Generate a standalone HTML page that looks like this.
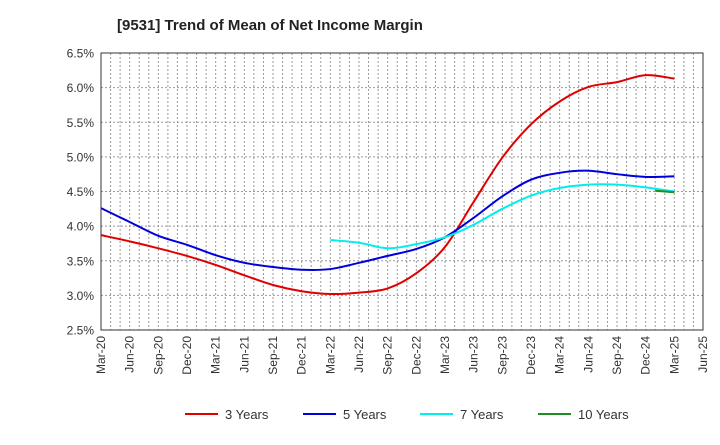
<!DOCTYPE html>
<html><head><meta charset="utf-8"><style>
body{margin:0;background:#fff;font-family:"Liberation Sans",Arial,sans-serif;}
</style></head><body>
<svg width="720" height="440" xmlns="http://www.w3.org/2000/svg">
<text x="117" y="30" font-size="15" font-weight="bold" fill="#222">[9531]  Trend of Mean of Net Income Margin</text>
<g id="grid"></g>
<g id="yticks"></g>
<g id="xticks"></g>
<g id="series"></g>
<rect x="101" y="53" width="602" height="277" fill="none" stroke="#333" stroke-width="1"/>
<g id="legend"></g>
</svg>
<script>
const xLabels=["Mar-20","Jun-20","Sep-20","Dec-20","Mar-21","Jun-21","Sep-21","Dec-21","Mar-22","Jun-22","Sep-22","Dec-22","Mar-23","Jun-23","Sep-23","Dec-23","Mar-24","Jun-24","Sep-24","Dec-24","Mar-25","Jun-25"];
const yTicks=[2.5,3.0,3.5,4.0,4.5,5.0,5.5,6.0,6.5];
const s3=[3.87,3.78,3.68,3.57,3.44,3.29,3.15,3.06,3.02,3.04,3.10,3.32,3.70,4.35,4.99,5.47,5.80,6.01,6.08,6.18,6.13];
const s5=[4.26,4.06,3.86,3.73,3.58,3.47,3.41,3.37,3.38,3.47,3.57,3.67,3.84,4.12,4.43,4.67,4.77,4.80,4.75,4.71,4.72];
const s7=[3.80,3.76,3.68,3.74,3.84,4.02,4.25,4.44,4.55,4.60,4.60,4.56,4.50];
const s7Start=8;
const s10=[4.51,4.49];
const s10Months=[58,60];
const NS="http://www.w3.org/2000/svg";
const X0=101,X1=703,Y0=330,Y1=53,months=63;
const xs=m=>X0+(X1-X0)*m/months;
const ys=v=>Y0-(v-2.5)/(6.5-2.5)*(Y0-Y1);
function mk(t,a,p){const e=document.createElementNS(NS,t);for(const k in a)e.setAttribute(k,a[k]);p.appendChild(e);return e;}
const grid=document.getElementById('grid');
for(let m=1;m<months;m++){
 const l=mk('line',{x1:xs(m),x2:xs(m),y1:Y1,y2:Y0,stroke:'#999','stroke-dasharray':'2,2','stroke-width':1},grid);
 
 
}
const yt=document.getElementById('yticks');
yTicks.forEach(v=>{
 if(v>2.5&&v<6.5){const l=mk('line',{x1:X0,x2:X1,y1:ys(v),y2:ys(v),stroke:'#999','stroke-dasharray':'2,2'},grid);
 
 }
 const t=mk('text',{x:94,y:ys(v)+4.5,'text-anchor':'end','font-size':12,fill:'#333'},yt);
 t.textContent=v.toFixed(1)+'%';
 
 
});
const xt=document.getElementById('xticks');
xLabels.forEach((s,i)=>{
 const x=xs(i*3);
 const t=mk('text',{x:0,y:0,'text-anchor':'end','font-size':12,fill:'#333',transform:`translate(${x+4},336) rotate(-90)`},xt);
 t.textContent=s;
 
 
});
function path(pts){
 let d=`M${pts[0][0]},${pts[0][1]}`;
 for(let i=0;i<pts.length-1;i++){
  const p0=pts[i-1]||pts[i],p1=pts[i],p2=pts[i+1],p3=pts[i+2]||p2;
  const c1=[p1[0]+(p2[0]-p0[0])/6,p1[1]+(p2[1]-p0[1])/6];
  const c2=[p2[0]-(p3[0]-p1[0])/6,p2[1]-(p3[1]-p1[1])/6];
  d+=` C${c1[0]},${c1[1]} ${c2[0]},${c2[1]} ${p2[0]},${p2[1]}`;
 }
 return d;
}
const sg=document.getElementById('series');
function draw(vals,monthsArr,color,name){
 const pts=vals.map((v,i)=>[xs(monthsArr[i]),ys(v)]);
 const p=mk('path',{d:path(pts),fill:'none',stroke:color,'stroke-width':2},sg);
 
 
}
draw(s3,s3.map((_,i)=>i*3),'#e00000','line-3-years');
draw(s5,s5.map((_,i)=>i*3),'#0000dd','line-5-years');
draw(s7,s7.map((_,i)=>(s7Start+i)*3),'#00eeee','line-7-years');
draw(s10,s10Months,'#228b22','line-10-years');
const lg=document.getElementById('legend');
[["3 Years","#e00000",185],["5 Years","#0000dd",303],["7 Years","#00eeee",420],["10 Years","#228b22",538]].forEach(([n,c,x])=>{
 const g=mk('g',{},lg);
 
 
 mk('line',{x1:x,x2:x+33,y1:414,y2:414,stroke:c,'stroke-width':2},g);
 const t=mk('text',{x:x+40,y:419,'font-size':13,fill:'#333'},g);
 t.textContent=n;
});
</script>
</body></html>
